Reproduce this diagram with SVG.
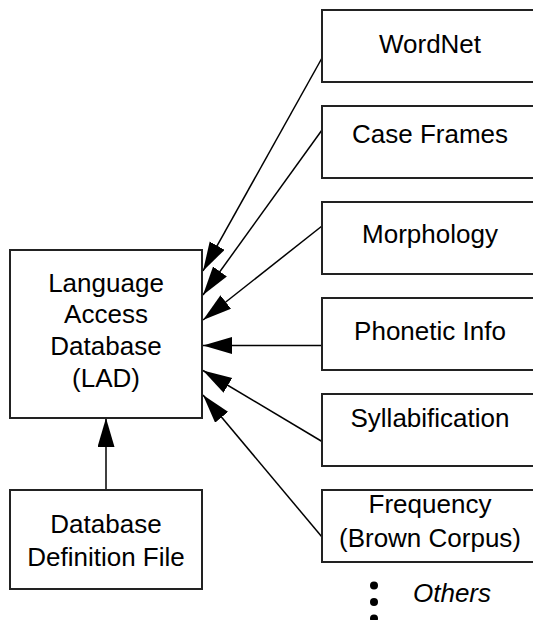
<svg xmlns="http://www.w3.org/2000/svg" width="533" height="620" viewBox="0 0 533 620">
  <style>
    .box { fill: #ffffff; stroke: #222222; stroke-width: 2; }
    .lbl { font-family: "Liberation Sans", Arial, Helvetica, sans-serif; font-size: 26px; fill: #000000; text-anchor: middle; }
    .note { font-family: "Liberation Sans", Arial, Helvetica, sans-serif; font-size: 26px; font-style: italic; fill: #000000; }
    .edge { stroke: #000000; stroke-width: 1.5; fill: none; marker-end: url(#head); }
  </style>
  <defs>
    <marker id="head" markerUnits="userSpaceOnUse" markerWidth="30" markerHeight="18" refX="29" refY="8.5" orient="auto">
      <path d="M0,0 L29,8.5 L0,17 Z" fill="#000000"/>
    </marker>
  </defs>
  <rect width="533" height="620" fill="#ffffff"/>

  <!-- connectors -->
  <g id="connectors">
    <line class="edge" x1="322" y1="58" x2="203" y2="271"/>
    <line class="edge" x1="322" y1="130" x2="203" y2="295"/>
    <line class="edge" x1="322" y1="226" x2="203" y2="320"/>
    <line class="edge" x1="322" y1="345.5" x2="203" y2="345.5"/>
    <line class="edge" x1="322" y1="441.5" x2="203" y2="370.5"/>
    <line class="edge" x1="322" y1="537" x2="203" y2="395"/>
    <line class="edge" x1="106" y1="490" x2="106" y2="418"/>
  </g>

  <!-- central database -->
  <g id="lad">
    <rect class="box" x="10" y="250" width="192" height="168"/>
    <text class="lbl" x="106" y="292">Language</text>
    <text class="lbl" x="106" y="323">Access</text>
    <text class="lbl" x="106" y="355">Database</text>
    <text class="lbl" x="106" y="387">(LAD)</text>
  </g>

  <g id="definition-file">
    <rect class="box" x="10" y="490" width="192" height="99"/>
    <text class="lbl" x="106" y="533">Database</text>
    <text class="lbl" x="106" y="566">Definition File</text>
  </g>

  <!-- resource sources -->
  <g id="wordnet">
    <rect class="box" x="322" y="10" width="216" height="72"/>
    <text class="lbl" x="430" y="53">WordNet</text>
  </g>
  <g id="case-frames">
    <rect class="box" x="322" y="106" width="216" height="72"/>
    <text class="lbl" x="430" y="143">Case Frames</text>
  </g>
  <g id="morphology">
    <rect class="box" x="322" y="202" width="216" height="72"/>
    <text class="lbl" x="430" y="243">Morphology</text>
  </g>
  <g id="phonetic-info">
    <rect class="box" x="322" y="298" width="216" height="72"/>
    <text class="lbl" x="430" y="340">Phonetic Info</text>
  </g>
  <g id="syllabification">
    <rect class="box" x="322" y="394" width="216" height="72"/>
    <text class="lbl" x="430" y="427">Syllabification</text>
  </g>
  <g id="frequency">
    <rect class="box" x="322" y="490" width="216" height="72"/>
    <text class="lbl" x="430" y="513">Frequency</text>
    <text class="lbl" x="430" y="547">(Brown Corpus)</text>
  </g>

  <g id="others">
    <circle cx="374" cy="585.5" r="4" fill="#000000"/>
    <circle cx="374" cy="602" r="4" fill="#000000"/>
    <circle cx="374" cy="618.5" r="4" fill="#000000"/>
    <text class="note" x="413" y="602">Others</text>
  </g>
</svg>
